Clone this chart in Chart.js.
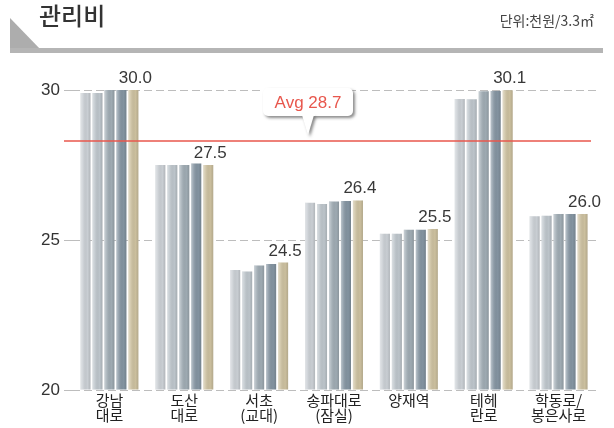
<!DOCTYPE html>
<html>
<head>
<meta charset="utf-8">
<style>
  html, body { margin: 0; padding: 0; background: #fff; }
  #chart { display: block; }
</style>
<script src="https://cdn.jsdelivr.net/npm/chart.js@4/dist/chart.umd.min.js"></script>
</head>
<body>
<canvas id="chart" width="614" height="428"></canvas>
<script>
// 지역별 관리비 (천원/3.3㎡)
const categories = [['강남', '대로'], ['도산', '대로'], ['서초', '(교대)'], ['송파대로', '(잠실)'], '양재역', ['테헤', '란로'], ['학동로/', '봉은사로']];
const series1 = [29.9, 27.5, 24.0, 26.24, 25.21, 29.7, 25.79];
const series2 = [29.9, 27.5, 23.95, 26.2, 25.21, 29.69, 25.81];
const series3 = [30.0, 27.5, 24.15, 26.28, 25.34, 29.96, 25.87];
const series4 = [30.0, 27.55, 24.2, 26.3, 25.34, 29.97, 25.87];
const series5 = [30.0, 27.5, 24.25, 26.32, 25.37, 29.99, 25.87];
const valueLabels = ['30.0', '27.5', '24.5', '26.4', '25.5', '30.1', '26.0'];
const yTicks = [20, 25, 30];
const avgLine = 28.3;
const avgText = 'Avg 28.7';

const barColors = ['#c9ced3', '#bcc4ca', '#9eaab2', '#8393a0', '#cbbf9e'];
const numFont = '"Liberation Sans", Arial, sans-serif';
const krFont = '"Noto Sans CJK KR", sans-serif';

const decor = {
    id: 'decor',
    beforeDraw(chart) {
        const ctx = chart.ctx;
        ctx.save();
        // 헤더
        ctx.fillStyle = '#adadad';
        ctx.beginPath();
        ctx.moveTo(10, 18);
        ctx.lineTo(41, 50);
        ctx.lineTo(10, 50);
        ctx.closePath();
        ctx.fill();
        ctx.fillStyle = '#b5b5b5';
        ctx.fillRect(10, 48, 593, 5);

        ctx.fillStyle = '#333';
        ctx.font = '500 24px ' + krFont;
        ctx.textBaseline = 'middle';
        ctx.fillText('관리비', 39, 16);

        ctx.fillStyle = '#444';
        ctx.font = '14px ' + krFont;
        ctx.textAlign = 'right';
        ctx.fillText('단위:천원/3.3㎡', 594, 21);
        ctx.restore();
    },
    afterDatasetsDraw(chart) {
        const ctx = chart.ctx;
        const area = chart.chartArea;
        const y = chart.scales.y;
        ctx.save();

        // 막대 음영
        chart.data.datasets.forEach((ds, di) => {
            chart.getDatasetMeta(di).data.forEach(el => {
                const p = el.getProps(['x', 'y', 'base', 'width'], true);
                const left = p.x - p.width / 2;
                const g = ctx.createLinearGradient(left, 0, left + p.width, 0);
                g.addColorStop(0, 'rgba(255,255,255,0.45)');
                g.addColorStop(0.25, 'rgba(255,255,255,0.15)');
                g.addColorStop(0.7, 'rgba(0,0,0,0)');
                g.addColorStop(1, 'rgba(0,0,0,0.12)');
                ctx.fillStyle = g;
                ctx.fillRect(left, p.y, p.width, p.base - p.y);
            });
        });

        // 값 라벨 (마지막 막대 위)
        const last = chart.getDatasetMeta(chart.data.datasets.length - 1);
        ctx.fillStyle = '#383838';
        ctx.font = '17px ' + numFont;
        ctx.textAlign = 'center';
        ctx.textBaseline = 'alphabetic';
        last.data.forEach((el, i) => {
            const p = el.getProps(['x', 'y'], true);
            ctx.fillText(valueLabels[i], p.x + 2, p.y - 7);
        });

        // 평균선
        const ay = y.getPixelForValue(avgLine);
        ctx.strokeStyle = '#e8574d';
        ctx.lineWidth = 1.5;
        ctx.beginPath();
        ctx.moveTo(area.left - 8, ay);
        ctx.lineTo(area.right - 5, ay);
        ctx.stroke();

        // 말풍선
        const bx = 263, bw = 90, bh = 28, by = ay - 53;
        ctx.save();
        ctx.shadowColor = 'rgba(0,0,0,0.45)';
        ctx.shadowBlur = 3;
        ctx.shadowOffsetX = 2;
        ctx.shadowOffsetY = 2;
        ctx.fillStyle = '#fff';
        ctx.beginPath();
        ctx.roundRect(bx, by, bw, bh, 5);
        ctx.fill();
        ctx.beginPath();
        ctx.moveTo(302, by + bh - 1);
        ctx.lineTo(314, by + bh - 1);
        ctx.lineTo(308, ay - 6);
        ctx.closePath();
        ctx.fill();
        ctx.restore();
        ctx.fillStyle = '#fff';
        ctx.fillRect(301, by + bh - 4, 14, 4);

        ctx.fillStyle = '#e8574d';
        ctx.font = '17px ' + numFont;
        ctx.textAlign = 'center';
        ctx.textBaseline = 'middle';
        ctx.fillText(avgText, bx + bw / 2, by + bh / 2 + 1);
        ctx.restore();
    }
};

const allSeries = [series1, series2, series3, series4, series5];

new Chart(document.getElementById('chart'), {
    type: 'bar',
    data: {
        labels: categories,
        datasets: allSeries.map((s, i) => ({
            data: s,
            base: yTicks[0],
            backgroundColor: barColors[i],
            borderWidth: 0,
            categoryPercentage: 0.8,
            barPercentage: 0.84,
            clip: { left: 0, top: 10, right: 0, bottom: 0 }
        }))
    },
    options: {
        responsive: false,
        animation: false,
        devicePixelRatio: 1,
        layout: { padding: { top: 90, right: 18, left: 0, bottom: 0 } },
        plugins: {
            legend: { display: false },
            tooltip: { enabled: false }
        },
        scales: {
            x: {
                grid: { display: false, drawTicks: false },
                border: { display: false },
                ticks: {
                    color: '#222',
                    font: { family: krFont, size: 15, lineHeight: 1.0 },
                    padding: 3,
                    autoSkip: false,
                    maxRotation: 0
                },
                afterFit: s => { s.height = 38; }
            },
            y: {
                min: 20,
                max: 30,
                afterBuildTicks: s => { s.ticks = yTicks.map(v => ({ value: v })); },
                grid: { color: '#bdbdbd', tickLength: 8, lineWidth: 1 },
                border: { display: false, dash: [8, 4] },
                ticks: {
                    color: '#333',
                    font: { family: numFont, size: 17 },
                    padding: 4
                },
                afterFit: s => { s.width = 72; }
            }
        }
    },
    plugins: [decor]
});
</script>
</body>
</html>
